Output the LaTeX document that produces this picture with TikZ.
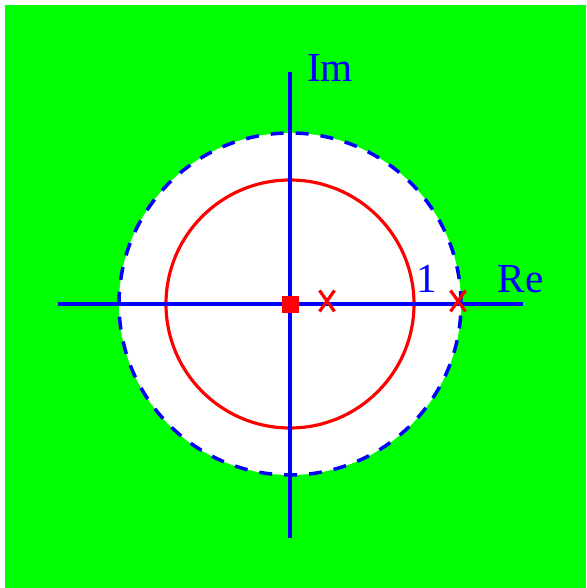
\documentclass[tikz,border=0pt]{standalone}
\usepackage{fontspec}
\setmainfont{Liberation Serif}
\usetikzlibrary{positioning, calc}
\definecolor{bggreen}{HTML}{00FF00}
\definecolor{axblue}{HTML}{0000FF}
\definecolor{plred}{HTML}{FF0000}

\begin{document}
\begin{tikzpicture}[
  axis/.style={axblue, line width=2.1pt},
  lbl/.style={text=axblue, font=\fontsize{23.5}{26}\selectfont, inner sep=0pt, anchor=base},
  pole/.style={plred, line width=1.8pt},
]

% Background
\useasboundingbox (-5.80,-5.68) rectangle (5.92,6.08);
\fill[bggreen] (-5.70,-5.68) rectangle (5.92,5.98);

% Region of convergence
\fill[white] (0,0) circle (3.42);
\draw[axblue, line width=2pt, dash pattern=on 0.26cm off 0.24cm] (0,0) circle (3.42);

% Unit circle
\draw[plred, line width=1.8pt] (0,0) circle (2.48);

% Axes
\coordinate (xl) at (-4.64,0);
\coordinate (xr) at (4.66,0);
\coordinate (yb) at (0,-4.68);
\coordinate (yt) at (0,4.64);
\draw[axis] (xl) -- (xr);
\draw[axis] (yb) -- (yt);

\node[lbl] (re) at (4.61,0.22) {Re};
\node[lbl] (im) at (0.80,4.44) {Im};
\node[lbl] (one) at (2.74,0.23) {1};

% Zero and poles
\node[fill=plred, minimum size=0.34cm, inner sep=0pt] (zero) at (0.01,-0.01) {};
\foreach \px/\name in {0.74/p1, 3.36/p2} {
  \coordinate (\name) at (\px,0.06);
  \draw[pole] ($(\name)+(-0.15,-0.21)$) -- ($(\name)+(0.15,0.21)$);
  \draw[pole] ($(\name)+(-0.15,0.21)$) -- ($(\name)+(0.15,-0.21)$);
}

\end{tikzpicture}
\end{document}
